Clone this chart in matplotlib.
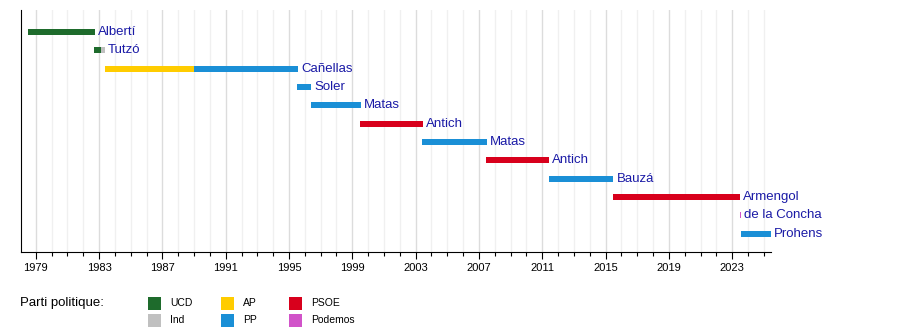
import matplotlib
matplotlib.use("Agg")
import matplotlib.pyplot as plt
from matplotlib.patches import Rectangle

plt.rcParams['font.family'] = ['Liberation Sans', 'DejaVu Sans']

# --- data: one row per presidency, segments coloured by party ---
names = ['Albertí', 'Tutzó', 'Cañellas', 'Soler', 'Matas', 'Antich',
         'Matas', 'Antich', 'Bauzá', 'Armengol', 'de la Concha', 'Prohens']
seg_starts = [[1978.51], [1982.69, 1983.13], [1983.38, 1989.0], [1995.5],
              [1996.39], [1999.49], [2003.4], [2007.45], [2011.4],
              [2015.47], [2023.5], [2023.55]]
seg_ends = [[1982.75], [1983.13, 1983.38], [1989.0, 1995.56], [1996.39],
            [1999.55], [2003.47], [2007.5], [2011.43], [2015.5],
            [2023.5], [2023.55], [2025.45]]
seg_parties = [['UCD'], ['UCD', 'Ind'], ['AP', 'PP'], ['PP'], ['PP'], ['PSOE'],
               ['PP'], ['PSOE'], ['PP'], ['PSOE'], ['Podemos'], ['PP']]

parties = ['UCD', 'Ind', 'AP', 'PP', 'PSOE', 'Podemos']
party_colors = ['#1e6b2c', '#c0c0c0', '#ffcc00', '#1a8fd6', '#d8001c', '#d153c9']
colors = dict(zip(parties, party_colors))

major_years = list(range(1979, 2025, 4))
minor_years = list(range(1978, 2026))

fig = plt.figure(figsize=(9, 3.3), dpi=100)
ax = fig.add_axes([21 / 900, 78 / 330, 750 / 900, 242 / 330])

x0, x1 = 1978.07, 2025.45
ax.set_xlim(x0, x1)
ax.set_ylim(12.0, -1.2)

# grid lines
for yr in minor_years:
    if x0 < yr < x1 and yr not in major_years:
        ax.axvline(yr, color='#f0f0f0', lw=1, zorder=0)
for yr in major_years:
    ax.axvline(yr, color='#dcdcdc', lw=1, zorder=0)

label_color = '#1a1aa6'
for i, name in enumerate(names):
    for s, e, p in zip(seg_starts[i], seg_ends[i], seg_parties[i]):
        w = max(e - s, 0.06)
        ax.barh(i, w, left=s, height=0.33, color=colors[p], lw=0, zorder=2)
    end = max(seg_ends[i])
    ax.text(end + 0.2, i, name, color=label_color, fontsize=9.5,
            va='center', ha='left', zorder=3, clip_on=False)

# axes styling
for side in ['top', 'right']:
    ax.spines[side].set_visible(False)
ax.spines['left'].set_color('black')
ax.spines['bottom'].set_color('black')
ax.set_yticks([])
ax.set_xticks(major_years)
ax.set_xticklabels([str(y) for y in major_years], fontsize=8)
ax.set_xticks([y for y in minor_years if x0 < y < x1], minor=True)
ax.tick_params(axis='x', which='major', length=5, width=0.8, pad=3)
ax.tick_params(axis='x', which='minor', length=3, width=0.8)

# legend
fig.text(20 / 900, 1 - 303 / 330, 'Parti politique:', fontsize=9.5,
         va='center', ha='left')
leg_cols = [148, 221, 289]
leg_rows = [303, 320]
for k, p in enumerate(parties):
    col, row = k // 2, k % 2
    px, py = leg_cols[col], leg_rows[row]
    fig.patches.append(Rectangle((px / 900, 1 - (py + 6.5) / 330), 13 / 900, 13 / 330,
                                 transform=fig.transFigure, color=colors[p], lw=0))
    fig.text((px + 22) / 900, 1 - py / 330, p, fontsize=7.5, va='center', ha='left')

fig.savefig('out.png', dpi=100)
